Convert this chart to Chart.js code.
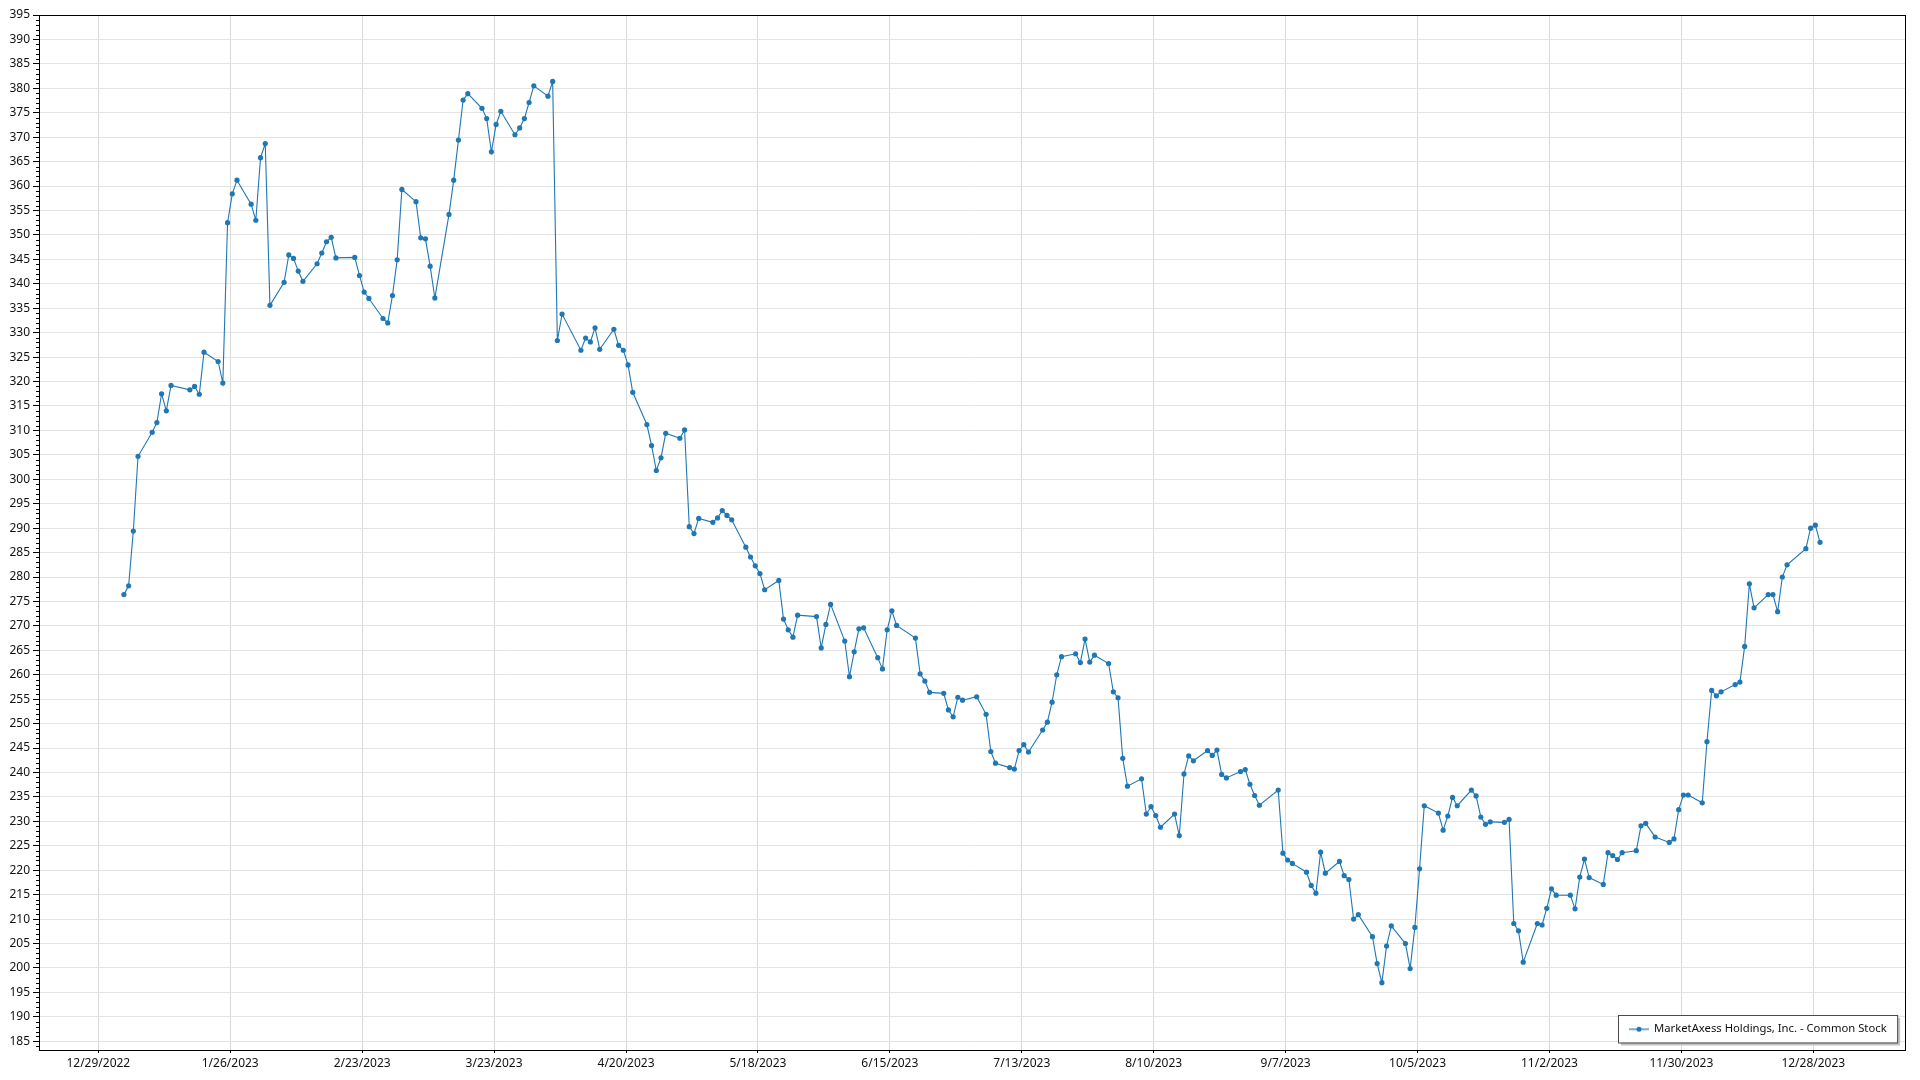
<!DOCTYPE html>
<html>
<head>
<meta charset="utf-8">
<script src="https://cdn.jsdelivr.net/npm/chart.js@4.4.1/dist/chart.umd.min.js"></script>
<style>
html,body{margin:0;padding:0;background:#fff;}
#wrap{width:1920px;height:1080px;position:relative;}
</style>
</head>
<body>
<div id="wrap"><canvas id="c" width="1920" height="1080"></canvas></div>
<script>
// ---------------- DATA ----------------
const seriesLabel = "MarketAxess Holdings, Inc. - Common Stock";

const tradeDates = [
"2023-01-03","2023-01-04","2023-01-05","2023-01-06","2023-01-09","2023-01-10","2023-01-11","2023-01-12","2023-01-13","2023-01-17",
"2023-01-18","2023-01-19","2023-01-20","2023-01-23","2023-01-24","2023-01-25","2023-01-26","2023-01-27","2023-01-30","2023-01-31",
"2023-02-01","2023-02-02","2023-02-03","2023-02-06","2023-02-07","2023-02-08","2023-02-09","2023-02-10","2023-02-13","2023-02-14",
"2023-02-15","2023-02-16","2023-02-17","2023-02-21","2023-02-22","2023-02-23","2023-02-24","2023-02-27","2023-02-28",
"2023-03-01","2023-03-02","2023-03-03","2023-03-06","2023-03-07","2023-03-08","2023-03-09","2023-03-10","2023-03-13","2023-03-14",
"2023-03-15","2023-03-16","2023-03-17","2023-03-20","2023-03-21","2023-03-22","2023-03-23","2023-03-24","2023-03-27","2023-03-28",
"2023-03-29","2023-03-30","2023-03-31",
"2023-04-03","2023-04-04","2023-04-05","2023-04-06","2023-04-10","2023-04-11","2023-04-12","2023-04-13","2023-04-14","2023-04-17",
"2023-04-18","2023-04-19","2023-04-20","2023-04-21","2023-04-24","2023-04-25","2023-04-26","2023-04-27","2023-04-28",
"2023-05-01","2023-05-02","2023-05-03","2023-05-04","2023-05-05","2023-05-08","2023-05-09","2023-05-10","2023-05-11","2023-05-12",
"2023-05-15","2023-05-16","2023-05-17","2023-05-18","2023-05-19","2023-05-22","2023-05-23","2023-05-24","2023-05-25","2023-05-26",
"2023-05-30","2023-05-31",
"2023-06-01","2023-06-02","2023-06-05","2023-06-06","2023-06-07","2023-06-08","2023-06-09","2023-06-12","2023-06-13","2023-06-14",
"2023-06-15","2023-06-16","2023-06-20","2023-06-21","2023-06-22","2023-06-23","2023-06-26","2023-06-27","2023-06-28","2023-06-29",
"2023-06-30",
"2023-07-03","2023-07-05","2023-07-06","2023-07-07","2023-07-10","2023-07-11","2023-07-12","2023-07-13","2023-07-14","2023-07-17",
"2023-07-18","2023-07-19","2023-07-20","2023-07-21","2023-07-24","2023-07-25","2023-07-26","2023-07-27","2023-07-28","2023-07-31",
"2023-08-01","2023-08-02","2023-08-03","2023-08-04","2023-08-07","2023-08-08","2023-08-09","2023-08-10","2023-08-11","2023-08-14",
"2023-08-15","2023-08-16","2023-08-17","2023-08-18","2023-08-21","2023-08-22","2023-08-23","2023-08-24","2023-08-25","2023-08-28",
"2023-08-29","2023-08-30","2023-08-31",
"2023-09-01","2023-09-05","2023-09-06","2023-09-07","2023-09-08","2023-09-11","2023-09-12","2023-09-13","2023-09-14","2023-09-15",
"2023-09-18","2023-09-19","2023-09-20","2023-09-21","2023-09-22","2023-09-25","2023-09-26","2023-09-27","2023-09-28","2023-09-29",
"2023-10-02","2023-10-03","2023-10-04","2023-10-05","2023-10-06","2023-10-09","2023-10-10","2023-10-11","2023-10-12","2023-10-13",
"2023-10-16","2023-10-17","2023-10-18","2023-10-19","2023-10-20","2023-10-23","2023-10-24","2023-10-25","2023-10-26","2023-10-27",
"2023-10-30","2023-10-31",
"2023-11-01","2023-11-02","2023-11-03","2023-11-06","2023-11-07","2023-11-08","2023-11-09","2023-11-10","2023-11-13","2023-11-14",
"2023-11-15","2023-11-16","2023-11-17","2023-11-20","2023-11-21","2023-11-22","2023-11-24","2023-11-27","2023-11-28","2023-11-29",
"2023-11-30",
"2023-12-01","2023-12-04","2023-12-05","2023-12-06","2023-12-07","2023-12-08","2023-12-11","2023-12-12","2023-12-13","2023-12-14",
"2023-12-15","2023-12-18","2023-12-19","2023-12-20","2023-12-21","2023-12-22","2023-12-26","2023-12-27","2023-12-28","2023-12-29"
];

const closePrices = [
276.4,278.2,289.4,304.7,309.6,311.6,317.5,314.0,319.2,318.3,
319.0,317.4,326.0,324.1,319.7,352.5,358.4,361.2,356.3,353.0,
365.8,368.7,335.6,340.3,345.9,345.2,342.6,340.5,344.1,346.3,
348.6,349.5,345.3,345.4,341.7,338.3,337.0,332.9,332.0,
337.6,344.9,359.3,356.8,349.4,349.2,343.6,337.1,354.2,361.2,
369.4,377.6,378.9,375.9,373.8,367.0,372.6,375.3,370.5,371.9,
373.8,377.1,380.5,
378.4,381.4,328.4,333.8,326.4,328.9,328.1,331.0,326.6,330.7,
327.4,326.4,323.4,317.8,311.2,306.9,301.8,304.4,309.4,
308.4,310.1,290.3,288.9,292.0,291.2,292.1,293.6,292.6,291.7,
286.1,284.1,282.3,280.7,277.4,279.3,271.4,269.2,267.7,272.2,
271.9,265.5,
270.3,274.4,266.9,259.6,264.7,269.4,269.6,263.5,261.2,269.2,
273.1,270.1,267.5,260.2,258.7,256.4,256.2,252.8,251.4,255.4,
254.8,
255.5,251.9,244.3,241.9,241.0,240.7,244.5,245.7,244.2,248.7,
250.3,254.4,260.0,263.7,264.3,262.5,267.3,262.6,264.0,262.3,
256.5,255.3,242.9,237.2,238.7,231.5,233.0,231.2,228.8,231.5,
227.1,239.7,243.4,242.4,244.5,243.5,244.6,239.6,238.9,240.2,
240.6,237.6,235.3,
233.3,236.4,223.5,222.1,221.4,219.6,216.9,215.3,223.7,219.4,
221.8,218.9,218.1,210.0,210.9,206.4,200.9,197.0,204.5,208.6,
205.0,199.9,208.3,220.3,233.2,231.7,228.2,231.1,234.9,233.2,
236.4,235.2,230.9,229.4,229.9,229.8,230.4,209.1,207.6,201.2,
209.1,208.8,
212.2,216.2,214.9,214.9,212.1,218.6,222.3,218.5,217.1,223.6,
223.0,222.2,223.6,224.0,229.1,229.6,226.8,225.7,226.4,232.4,
235.4,
235.4,233.8,246.3,256.8,255.7,256.5,258.0,258.5,265.8,278.6,
273.7,276.4,276.4,272.9,280.0,282.5,285.8,290.0,290.6,287.1
];

const xTickDates = [
"2022-12-29","2023-01-26","2023-02-23","2023-03-23","2023-04-20","2023-05-18","2023-06-15",
"2023-07-13","2023-08-10","2023-09-07","2023-10-05","2023-11-02","2023-11-30","2023-12-28"
];

const yTickValues = [185,190,195,200,205,210,215,220,225,230,235,240,245,250,255,260,265,270,275,280,
285,290,295,300,305,310,315,320,325,330,335,340,345,350,355,360,365,370,375,380,385,390,395];

// ---------------- HELPERS ----------------
const ORIGIN = Date.UTC(2022, 11, 29);
const DAY = 86400000;
const SAMPLE_TIME = 0.43; // time of day of each sample, as fraction of a day
function parseISO(s){ const p = s.split('-').map(Number); return Date.UTC(p[0], p[1]-1, p[2]); }
function dayNum(s){ return (parseISO(s) - ORIGIN) / DAY; }
function fmtDate(s){ const p = s.split('-').map(Number); return p[1] + '/' + p[2] + '/' + p[0]; }

const points = tradeDates.map((d, i) => ({ x: dayNum(d) + SAMPLE_TIME, y: closePrices[i] }));

const BLUE = '#1f77b4';
const FONT = '"Segoe UI", "Noto Sans", "Open Sans", sans-serif';

// ---------------- PLUGIN: frame, minor ticks, legend ----------------
const framePlugin = {
  id: 'frame',
  afterDraw(chart) {
    const ctx = chart.ctx;
    const a = chart.chartArea;
    const y = chart.scales.y;
    ctx.save();
    // minor ticks on y axis
    ctx.strokeStyle = '#000';
    ctx.lineWidth = 1;
    ctx.beginPath();
    for (let v = Math.ceil(y.min); v <= y.max; v++) {
      if (v % 5 === 0) continue;
      const py = Math.round(y.getPixelForValue(v)) + 0.5;
      ctx.moveTo(Math.round(a.left) - 3, py);
      ctx.lineTo(Math.round(a.left), py);
    }
    ctx.stroke();
    // plot frame
    ctx.strokeRect(Math.round(a.left) + 0.5, Math.round(a.top) + 0.5,
                   Math.round(a.right) - Math.round(a.left) - 1, Math.round(a.bottom) - Math.round(a.top));
    // legend box (text fitted to the reference width)
    ctx.font = '12px ' + FONT;
    const w12 = ctx.measureText(seriesLabel).width;
    const fs = Math.min(12, 12 * 233 / w12);
    ctx.font = fs.toFixed(2) + 'px ' + FONT;
    const tw = ctx.measureText(seriesLabel).width;
    const w = 11 + 20 + 5 + tw + 10.5;
    const h = 27.5;
    const bx = Math.round(a.right - 8 - w);
    const by = Math.round(a.bottom - 7.5 - h);
    ctx.fillStyle = '#c4c4c4';
    ctx.fillRect(bx + 3, by + 3, w, h);
    ctx.fillStyle = '#fff';
    ctx.fillRect(bx, by, w, h);
    ctx.strokeStyle = '#4a4a4a';
    ctx.lineWidth = 1;
    ctx.strokeRect(bx + 0.5, by + 0.5, w, h);
    const cy = by + h / 2 + 0.5;
    ctx.strokeStyle = 'rgba(31,119,180,0.6)';
    ctx.lineWidth = 2;
    ctx.beginPath();
    ctx.moveTo(bx + 11, cy);
    ctx.lineTo(bx + 31, cy);
    ctx.stroke();
    ctx.fillStyle = BLUE;
    ctx.beginPath();
    ctx.arc(bx + 21, cy, 2.5, 0, Math.PI * 2);
    ctx.fill();
    ctx.fillStyle = '#111';
    ctx.textBaseline = 'middle';
    ctx.textAlign = 'left';
    ctx.fillText(seriesLabel, bx + 36, cy);
    ctx.restore();
  }
};

// ---------------- CHART ----------------
new Chart(document.getElementById('c'), {
  type: 'line',
  data: {
    datasets: [{
      label: seriesLabel,
      data: points,
      borderColor: BLUE,
      backgroundColor: BLUE,
      borderWidth: 1.1,
      pointRadius: 2.6,
      pointBorderWidth: 0,
      pointHoverRadius: 2.6,
      tension: 0,
      clip: false
    }]
  },
  options: {
    responsive: false,
    animation: false,
    devicePixelRatio: 1,
    layout: { padding: { top: 15, right: 14.5, left: 0, bottom: 0 } },
    plugins: { legend: { display: false }, tooltip: { enabled: false } },
    events: [],
    scales: {
      x: {
        type: 'linear',
        min: -12.59,
        max: 383.57,
        afterBuildTicks(axis) { axis.ticks = xTickDates.map(s => ({ value: dayNum(s) })); },
        afterFit(scale) { scale.height = 30; },
        ticks: {
          autoSkip: false, maxRotation: 0, minRotation: 0,
          padding: 3,
          color: '#111',
          font: { family: FONT, size: 12 },
          callback: (v, i) => fmtDate(xTickDates[i])
        },
        grid: { color: '#d9d9d9', lineWidth: 1, tickColor: '#000', tickLength: 3, drawTicks: true },
        border: { display: true, color: '#000', width: 1 }
      },
      y: {
        type: 'linear',
        min: 183.22,
        max: 395,
        afterBuildTicks(axis) { axis.ticks = yTickValues.map(v => ({ value: v })); },
        afterFit(scale) { scale.width = 39; },
        ticks: {
          autoSkip: false,
          padding: 3,
          color: '#111',
          font: { family: FONT, size: 12 },
          callback: v => String(v)
        },
        grid: { color: '#e3e3e3', lineWidth: 1, tickColor: '#000', tickLength: 6, drawTicks: true },
        border: { display: true, color: '#000', width: 1 }
      }
    }
  },
  plugins: [framePlugin]
});
</script>
</body>
</html>
